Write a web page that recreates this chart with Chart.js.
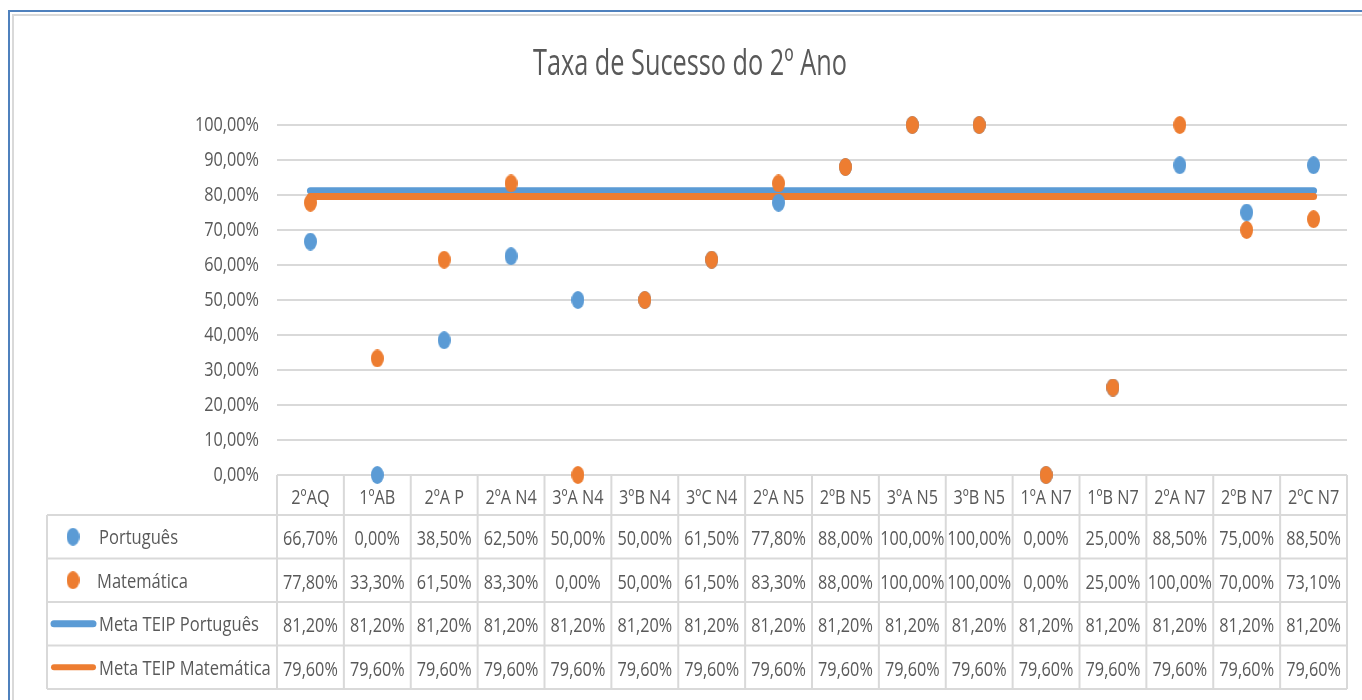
<!DOCTYPE html>
<html><head><meta charset="utf-8">
<script src="https://cdn.jsdelivr.net/npm/chart.js@4.4.1/dist/chart.umd.min.js"></script>
<style>html,body{margin:0;padding:0;background:#fff;}canvas{display:block;}</style>
</head><body>
<canvas id="c" width="1362" height="700"></canvas>
<script>
const categories = ['2ºAQ','1ºAB','2ºA P','2ºA N4','3ºA N4','3ºB N4','3ºC N4','2ºA N5','2ºB N5','3ºA N5','3ºB N5','1ºA N7','1ºB N7','2ºA N7','2ºB N7','2ºC N7'];
const portugues = [66.7,0,38.5,62.5,50,50,61.5,77.8,88,100,100,0,25,88.5,75,88.5];
const matematica = [77.8,33.3,61.5,83.3,0,50,61.5,83.3,88,100,100,0,25,100,70,73.1];
const metaPortugues = [81.2,81.2,81.2,81.2,81.2,81.2,81.2,81.2,81.2,81.2,81.2,81.2,81.2,81.2,81.2,81.2];
const metaMatematica = [79.6,79.6,79.6,79.6,79.6,79.6,79.6,79.6,79.6,79.6,79.6,79.6,79.6,79.6,79.6,79.6];
const seriesNames = ['Português','Matemática','Meta TEIP Português','Meta TEIP Matemática'];
const titleText = 'Taxa de Sucesso do 2º Ano';

const BLUE = '#5b9bd5', ORANGE = '#ed7d31', TEXT = '#595959', GRID = '#d9d9d9';
const FONT = "'Open Sans', Lato, sans-serif";

function makeDot(color, w, h) {
  const c = document.createElement('canvas');
  c.width = w; c.height = h;
  const g = c.getContext('2d');
  g.fillStyle = color;
  g.beginPath();
  g.ellipse(w / 2, h / 2, w / 2, h / 2, 0, 0, Math.PI * 2);
  g.fill();
  return c;
}
const dotBlue = makeDot(BLUE, 13, 18);
const dotOrange = makeDot(ORANGE, 13, 18);

const fmt = v => v.toFixed(2).replace('.', ',') + '%';

// condensed text helper (reference text is horizontally compressed)
let SX = 0.8, TSX = 0.8;
function txt(ctx, s, x, y, align, size, sx) {
  ctx.save();
  ctx.font = size + 'px ' + FONT;
  ctx.textAlign = align;
  ctx.textBaseline = 'middle';
  ctx.translate(x, y);
  ctx.scale(sx, 1);
  ctx.fillText(s, 0, 0);
  ctx.restore();
}

const tablePlugin = {
  id: 'dataTable',
  beforeDraw(chart) {
    const ctx = chart.ctx;
    ctx.save();
    ctx.font = '20px ' + FONT;
    SX = 64 / ctx.measureText('100,00%').width;
    ctx.font = '37px ' + FONT;
    TSX = 314 / ctx.measureText(titleText).width;
    ctx.lineWidth = 2;
    ctx.strokeStyle = '#4f81bd';
    ctx.beginPath();
    ctx.moveTo(9, 700); ctx.lineTo(9, 11); ctx.lineTo(1362, 11);
    ctx.stroke();
    ctx.strokeStyle = GRID;
    ctx.beginPath();
    ctx.moveTo(13, 700); ctx.lineTo(13, 15); ctx.lineTo(1362, 15);
    ctx.stroke();
    ctx.fillStyle = TEXT;
    txt(ctx, titleText, 690, 64, 'center', 37, TSX);
    ctx.restore();
  },
  beforeDatasetsDraw(chart) {
    const ctx = chart.ctx;
    const xs = chart.scales.x, ys = chart.scales.y;
    const n = categories.length;
    const colW = (xs.right - xs.left) / n;
    const top = chart.chartArea.bottom;
    const headerH = 40, rowH = 43.5, legendLeft = 47;
    const bottom = top + headerH + rowH * 4;
    ctx.save();
    // y tick labels
    ctx.fillStyle = TEXT;
    ys.ticks.forEach(t => {
      txt(ctx, fmt(t.value), xs.left - 18, ys.getPixelForValue(t.value), 'right', 20, SX);
    });
    ctx.strokeStyle = GRID;
    ctx.lineWidth = 2;
    ctx.beginPath();
    ctx.moveTo(xs.left, top); ctx.lineTo(xs.right, top);
    for (let r = 0; r <= 4; r++) {
      const y = top + headerH + r * rowH;
      ctx.moveTo(legendLeft, y); ctx.lineTo(xs.right, y);
    }
    ctx.moveTo(legendLeft, top + headerH); ctx.lineTo(legendLeft, bottom);
    for (let k = 0; k <= n; k++) {
      const x = xs.left + k * colW;
      ctx.moveTo(x, top); ctx.lineTo(x, bottom);
    }
    ctx.stroke();

    ctx.fillStyle = TEXT;
    categories.forEach((c, i) => {
      txt(ctx, c, xs.getPixelForValue(i), top + headerH / 2 + 3, 'center', 20, SX);
    });
    const rows = [portugues, matematica, metaPortugues, metaMatematica];
    rows.forEach((arr, r) => {
      const yc = top + headerH + r * rowH + rowH / 2 + 3;
      arr.forEach((v, i) => {
        txt(ctx, fmt(v), xs.getPixelForValue(i), yc, 'center', 20, SX);
      });
    });
    // legend keys
    rows.forEach((arr, r) => {
      const yc = top + headerH + r * rowH + rowH / 2;
      const color = (r % 2 === 0) ? BLUE : ORANGE;
      if (r < 2) {
        const d = r === 0 ? dotBlue : dotOrange;
        ctx.drawImage(d, 73 - d.width / 2, yc - d.height / 2);
      } else {
        ctx.strokeStyle = color;
        ctx.lineWidth = r === 2 ? 7 : 6;
        ctx.lineCap = 'round';
        ctx.beginPath();
        ctx.moveTo(54, yc); ctx.lineTo(93, yc);
        ctx.stroke();
      }
      ctx.fillStyle = TEXT;
      txt(ctx, seriesNames[r], r === 1 ? 97 : 99, yc + 2, 'left', 20, SX * 1.02);
    });
    ctx.restore();
  }
};

new Chart(document.getElementById('c'), {
  type: 'line',
  data: {
    labels: categories,
    datasets: [
      { label: seriesNames[0], data: portugues, showLine: false, pointStyle: dotBlue, pointRadius: 7, pointHoverRadius: 7, backgroundColor: BLUE, borderColor: BLUE, order: 1, clip: false },
      { label: seriesNames[1], data: matematica, showLine: false, pointStyle: dotOrange, pointRadius: 7, pointHoverRadius: 7, backgroundColor: ORANGE, borderColor: ORANGE, order: 0, clip: false },
      { label: seriesNames[2], data: metaPortugues, borderColor: BLUE, backgroundColor: BLUE, borderWidth: 7, borderCapStyle: 'round', pointRadius: 0, order: 3, clip: false },
      { label: seriesNames[3], data: metaMatematica, borderColor: ORANGE, backgroundColor: ORANGE, borderWidth: 7, borderCapStyle: 'round', pointRadius: 0, order: 2, clip: false }
    ]
  },
  options: {
    responsive: false,
    animation: false,
    devicePixelRatio: 1,
    layout: { padding: { left: 180, right: 15, top: 125, bottom: 225 } },
    plugins: {
      legend: { display: false },
      tooltip: { enabled: false },
      title: { display: false }
    },
    scales: {
      x: { type: 'category', offset: true, display: false },
      y: {
        min: 0, max: 100,
        afterFit(s) { s.width = 97; },
        border: { display: false },
        grid: { color: GRID, lineWidth: 2, drawTicks: false },
        ticks: { stepSize: 10, display: false }
      }
    }
  },
  plugins: [tablePlugin]
});
</script>
</body></html>
